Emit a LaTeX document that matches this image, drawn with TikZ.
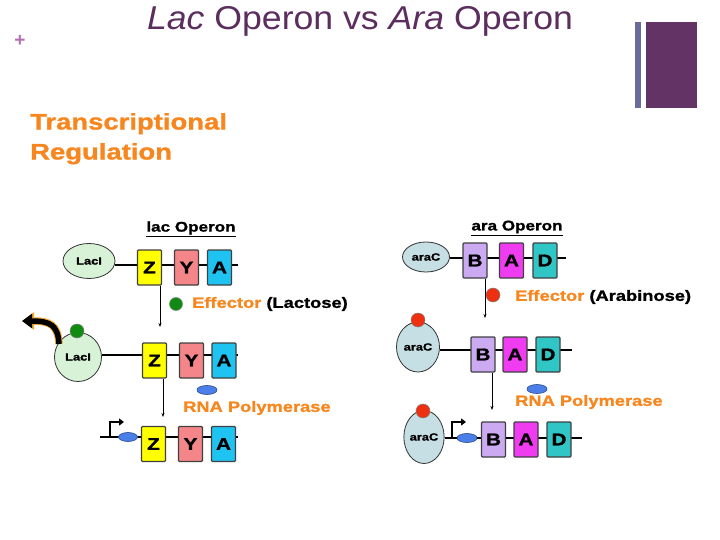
\documentclass[tikz,border=0pt]{standalone}
\usepackage{fontspec}
\setmainfont{Liberation Sans}
\newfontfamily\hv[FakeStretch=1.22,FakeBold=1.2]{Liberation Sans Bold}
\newfontfamily\ttl[FakeStretch=1.08]{Liberation Sans}
\usetikzlibrary{arrows.meta,backgrounds,shapes.geometric}
\definecolor{titlepurple}{HTML}{5B2E5E}
\definecolor{pluscol}{HTML}{B46EB4}
\definecolor{barthin}{HTML}{6B6B99}
\definecolor{barthick}{HTML}{633366}
\definecolor{orng}{HTML}{F7861E}
\definecolor{zyel}{HTML}{FFFF00}
\definecolor{ypink}{HTML}{F4868A}
\definecolor{acyan}{HTML}{1EC3F2}
\definecolor{blav}{HTML}{CCAAF2}
\definecolor{amag}{HTML}{F03CF0}
\definecolor{dteal}{HTML}{30C6C6}
\definecolor{lacgreen}{HTML}{D8F2D8}
\definecolor{arablue}{HTML}{C6DFE4}
\definecolor{effgreen}{HTML}{118A11}
\definecolor{effred}{HTML}{EC3010}
\definecolor{polblue}{HTML}{4A7EE8}
\definecolor{glow}{HTML}{F2A830}
\tikzset{
  gene/.style={draw=black!75, line width=1.3pt, rounded corners=1pt, minimum width=24pt,
    minimum height=35pt, inner sep=0pt, font=\hv\fontsize{17}{17}\selectfont},
  repr/.style={ellipse, draw=black!80, line width=0.8pt, inner sep=0pt, font=\hv\fontsize{10.5}{10.5}\selectfont},
  dna/.style={line width=1.4pt, black},
  down/.style={line width=1pt, -{Stealth[length=4pt,width=3pt]}},
  pol/.style={ellipse, fill=polblue, draw=polblue!60!black, line width=0.6pt, minimum width=20pt, minimum height=9pt, inner sep=0pt},
  dot/.style={circle, draw=black!50, line width=0.5pt, inner sep=0pt, minimum size=14pt},
  lbl/.style={font=\hv\fontsize{15}{15}\selectfont, inner sep=0pt},
  prom/.style={line width=2.6pt, -{Triangle[length=5pt,width=7pt]}},
}
\begin{document}
\begin{tikzpicture}[x=1pt,y=-1pt]
\useasboundingbox (0,0) rectangle (720,540);
% header
\node[font=\ttl\fontsize{33}{33}\selectfont, text=titlepurple, inner sep=0pt, anchor=base] (title) at (360,30) {\textit{Lac} Operon vs \textit{Ara} Operon};
\node[font=\bfseries\fontsize{19}{19}\selectfont, text=pluscol, inner sep=0pt] (plus) at (20,41) {+};
\fill[barthin] (635,22) rectangle (641,108);
\fill[barthick] (646,22) rectangle (697,108);
\node[anchor=north west, align=left, text=orng, font=\hv\fontsize{22.5}{30}\selectfont, inner sep=0pt] (tr) at (30,113) {Transcriptional\\Regulation};

% ---------- lac operon ----------
\node[font=\hv\fontsize{14}{14}\selectfont, inner sep=0pt] (lacop) at (191,229) {\underline{lac Operon}};
% row 1
\node[repr, fill=lacgreen, minimum width=52pt, minimum height=35pt] (laci1) at (89,261) {LacI};
\node[gene, fill=zyel] (z1) at (149.5,267.5) {Z};
\node[gene, fill=ypink] (y1) at (186.5,267.5) {Y};
\node[gene, fill=acyan] (a1) at (219.5,267.5) {A};
\coordinate (e1) at (238,265);
\begin{pgfonlayer}{background}
\draw[dna] (laci1.east |- e1) -- (e1);
\end{pgfonlayer}
\coordinate (d1) at (160,327);
\draw[down] (z1.south -| d1) -- (d1);
\node[dot, fill=effgreen, minimum size=13pt] (g1) at (176,304) {};
\node[lbl, anchor=west] (eff1) at (192,304) {\textcolor{orng}{Effector} (Lactose)};
% row 2
\node[repr, fill=lacgreen, minimum width=47pt, minimum height=49pt] (laci2) at (78,357) {LacI};
\node[dot, fill=effgreen] (g2) at (77,331) {};
\node[gene, fill=zyel] (z2) at (154.5,360.5) {Z};
\node[gene, fill=ypink] (y2) at (191.5,360.5) {Y};
\node[gene, fill=acyan] (a2) at (224,360.5) {A};
\coordinate (e2) at (238,355);
\begin{pgfonlayer}{background}
\draw[dna] (laci2.east |- e2) -- (e2);
\end{pgfonlayer}
\coordinate (c0) at (59,344);
\coordinate (c1) at (22,321);
\draw[line width=7.5pt, glow, -{Triangle[length=12pt,width=17pt]}] (c0) .. controls (58,325) and (50,321) .. (c1);
\draw[line width=5.5pt, black, -{Triangle[length=10pt,width=14pt]}] (c0) .. controls (58,325) and (50,321) .. (c1);
\coordinate (d2) at (163,417);
\draw[down] (z2.south -| d2) -- (d2);
\node[pol] (p1) at (207,390) {};
\node[lbl, text=orng, anchor=west] (rna1) at (183,408) {RNA Polymerase};
% row 3
\node[gene, fill=zyel] (z3) at (153.5,444) {Z};
\node[gene, fill=ypink] (y3) at (190.5,444) {Y};
\node[gene, fill=acyan] (a3) at (223.5,444) {A};
\coordinate (s3) at (100,437);
\coordinate (e3) at (238,437);
\begin{pgfonlayer}{background}
\draw[dna] (s3) -- (e3);
\end{pgfonlayer}
\node[pol, minimum width=19pt] (p2) at (128,437) {};
\coordinate (pr1) at (110,437);
\coordinate (pt1) at (124,422);
\draw[prom] (pr1) |- (pt1);

% ---------- ara operon ----------
\node[font=\hv\fontsize{14}{14}\selectfont, inner sep=0pt] (araop) at (517,228) {\underline{ara Operon}};
% row 1
\node[repr, fill=arablue, minimum width=47pt, minimum height=30pt] (arac1) at (426,257) {araC};
\node[gene, fill=blav] (b1) at (475,260.5) {B};
\node[gene, fill=amag] (aa1) at (511.5,260.5) {A};
\node[gene, fill=dteal] (dd1) at (545,260.5) {D};
\coordinate (f1) at (566,258);
\begin{pgfonlayer}{background}
\draw[dna] (arac1.east |- f1) -- (f1);
\end{pgfonlayer}
\coordinate (k1) at (485,318);
\draw[down] (b1.south -| k1) -- (k1);
\node[dot, fill=effred] (r1) at (493,295) {};
\node[lbl, anchor=west] (eff2) at (515,297) {\textcolor{orng}{Effector} (Arabinose)};
% row 2
\node[repr, fill=arablue, minimum width=43pt, minimum height=50pt] (arac2) at (418,347) {araC};
\node[dot, fill=effred] (r2) at (418,320) {};
\node[gene, fill=blav] (b2) at (483,354.5) {B};
\node[gene, fill=amag] (aa2) at (515,354.5) {A};
\node[gene, fill=dteal] (dd2) at (548,354.5) {D};
\coordinate (f2) at (572,350);
\begin{pgfonlayer}{background}
\draw[dna] (arac2.east |- f2) -- (f2);
\end{pgfonlayer}
\coordinate (k2) at (492,410);
\draw[down] (b2.south -| k2) -- (k2);
\node[pol] (p3) at (537,389) {};
\node[lbl, text=orng, anchor=west] (rna2) at (515,402) {RNA Polymerase};
% row 3
\node[repr, fill=arablue, minimum width=38pt, minimum height=53pt] (arac3) at (424,437) {araC};
\node[dot, fill=effred] (r3) at (423,411) {};
\node[gene, fill=blav] (b3) at (493.5,439.5) {B};
\node[gene, fill=amag] (aa3) at (526,439.5) {A};
\node[gene, fill=dteal] (dd3) at (559,439.5) {D};
\coordinate (f3) at (582,438);
\begin{pgfonlayer}{background}
\draw[dna] (arac3.east |- f3) -- (f3);
\end{pgfonlayer}
\node[pol] (p4) at (467,438) {};
\coordinate (pr2) at (452,438);
\coordinate (pt2) at (466,422);
\draw[prom] (pr2) |- (pt2);
\end{tikzpicture}
\end{document}
